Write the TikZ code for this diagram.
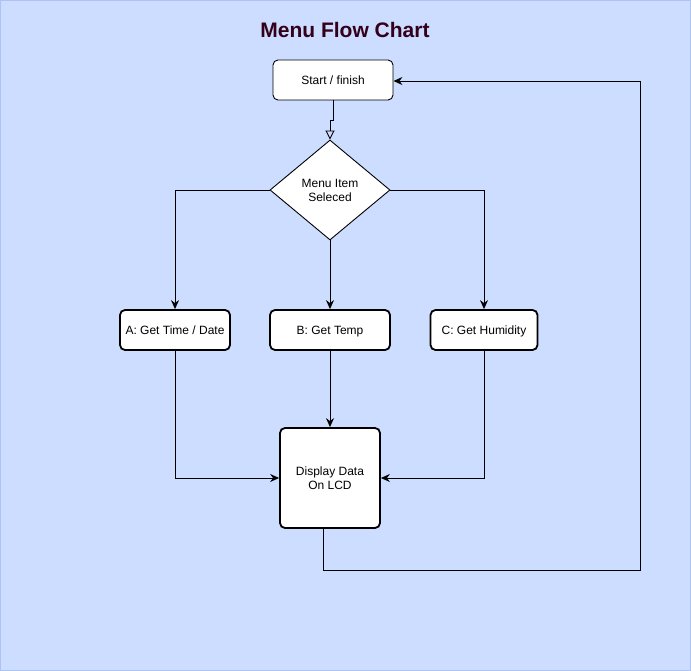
\documentclass[tikz,border=0pt]{standalone}
\usepackage{fontspec}
\setmainfont{Liberation Sans}
\usetikzlibrary{arrows.meta,shapes.geometric}
\definecolor{bgblue}{HTML}{CCDDFF}
\definecolor{bgedge}{HTML}{AFC3F0}
\definecolor{titlecol}{HTML}{33001A}
\begin{document}
\begin{tikzpicture}[x=1pt,y=-1pt,
  box/.style={draw=black,fill=white,rounded corners=5pt,inner sep=0pt,font=\fontsize{12}{14}\selectfont,align=center,text depth=0pt,text height=8.5pt},
  thinbox/.style={box,line width=0.9pt},
  thickbox/.style={box,line width=1.8pt},
  dia/.style={draw=black,fill=white,diamond,inner sep=0pt,line width=0.9pt,font=\fontsize{12}{14}\selectfont,align=center},
  conn/.style={draw=black,line width=0.9pt,-{Stealth[length=9pt,width=8pt,inset=3pt]}},
  openconn/.style={draw=black,line width=0.9pt,-{Triangle[open,length=9pt,width=9pt,line width=0.9pt]}}
]
\path[fill=bgblue,draw=bgedge,line width=1pt] (0.5,0.5) rectangle (690.5,670.5);
\useasboundingbox (0,0) rectangle (691,671);
\node[font=\bfseries\fontsize{21}{25}\selectfont,text=titlecol] (title) at (345,30) {Menu Flow Chart};
\node[thinbox,minimum width=120pt,minimum height=40pt] (start) at (333,80) {Start / finish};
\node[dia,minimum width=120pt,minimum height=100pt] (menu) at (330,190) {Menu Item\\Seleced};
\node[thickbox,minimum width=110pt,minimum height=40pt] (a) at (175,330) {A: Get Time / Date};
\node[thickbox,minimum width=120pt,minimum height=40pt] (b) at (330,330) {B: Get Temp};
\node[thickbox,minimum width=107pt,minimum height=40pt] (c) at (484,330) {C: Get Humidity};
\node[thickbox,minimum width=100pt,minimum height=100pt,text height=,text depth=] (disp) at (330,478) {Display Data\\On LCD};
\coordinate (j1) at (333,120);
\coordinate (j2) at (330,120);
\coordinate (r1) at (323,570);
\coordinate (r2) at (640,570);
\coordinate (r3) at (640,81);
\draw[openconn] (start.south -| j1) -- (j1) -- (j2) -- (menu.north);
\draw[conn] (menu.west) -| (a.north);
\draw[conn] (menu.south) -- (b.north);
\draw[conn] (menu.east) -| (c.north);
\draw[conn] (a.south) |- (disp.west);
\draw[conn] (c.south) |- (disp.east);
\draw[conn] (b.south) -- (disp.north);
\draw[conn] (disp.south -| r1) -- (r1) -- (r2) -- (r3) -- (start.east |- r3);
\end{tikzpicture}
\end{document}
